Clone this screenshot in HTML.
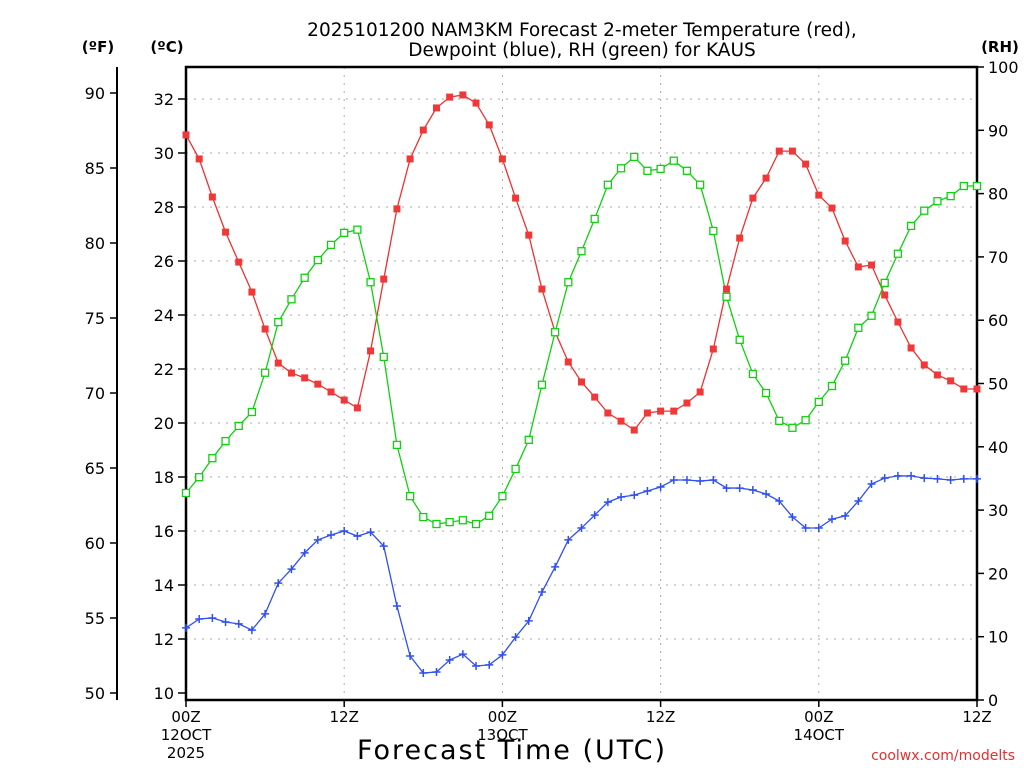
<!DOCTYPE html>
<html><head><meta charset="utf-8"><style>
html,body{margin:0;padding:0;background:#fff;}
svg{display:block;font-family:"DejaVu Sans","Liberation Sans",sans-serif;}
</style></head><body>
<svg id="chart" width="1024" height="768" viewBox="0 0 1024 768">
<g id="grid"></g>
<g id="axes"></g>
<g id="series"></g>
<text x="582" y="36" text-anchor="middle" font-size="18.5">2025101200 NAM3KM Forecast 2-meter Temperature (red),</text>
<text x="582" y="56" text-anchor="middle" font-size="18.5">Dewpoint (blue), RH (green) for KAUS</text>
<text x="98" y="52" text-anchor="middle" font-size="15" font-weight="bold">(ºF)</text>
<text x="167" y="52" text-anchor="middle" font-size="15" font-weight="bold">(ºC)</text>
<text x="1000" y="52" text-anchor="middle" font-size="15" font-weight="bold">(RH)</text>
<text x="512" y="759" text-anchor="middle" font-size="27" letter-spacing="2">Forecast Time (UTC)</text>
<text x="1015" y="760" text-anchor="end" font-size="14" fill="#e03030">coolwx.com/modelts</text>
</svg>
<script>
const hours = [];
for (let i = 0; i <= 60; i++) hours.push(i);
const tempC = [30.67,29.78,28.37,27.07,25.96,24.85,23.48,22.22,21.85,21.67,21.44,21.15,20.85,20.56,22.67,25.33,27.93,29.78,30.85,31.67,32.07,32.15,31.85,31.04,29.78,28.33,26.96,24.96,23.37,22.26,21.52,20.96,20.37,20.07,19.74,20.37,20.44,20.44,20.74,21.15,22.74,24.96,26.85,28.33,29.07,30.07,30.07,29.59,28.44,27.96,26.74,25.78,25.85,24.74,23.74,22.78,22.15,21.78,21.56,21.26,21.26];
const dewC = [12.41,12.74,12.78,12.63,12.56,12.33,12.93,14.07,14.59,15.19,15.67,15.85,16.0,15.81,15.96,15.44,13.22,11.37,10.74,10.78,11.22,11.44,11.0,11.04,11.41,12.07,12.67,13.74,14.67,15.67,16.11,16.59,17.07,17.26,17.33,17.48,17.63,17.89,17.89,17.85,17.89,17.59,17.59,17.52,17.37,17.11,16.52,16.11,16.11,16.44,16.56,17.11,17.74,17.96,18.04,18.04,17.96,17.93,17.89,17.93,17.93];
const rh = [32.7,35.2,38.2,40.9,43.3,45.5,51.7,59.7,63.3,66.7,69.5,71.9,73.8,74.3,66.0,54.2,40.3,32.2,28.9,27.8,28.1,28.4,27.8,29.1,32.2,36.5,41.1,49.8,58.1,66.0,70.9,76.0,81.4,84.0,85.8,83.6,83.9,85.2,83.6,81.4,74.1,63.7,56.9,51.5,48.5,44.1,43.0,44.2,47.1,49.6,53.6,58.8,60.7,65.9,70.5,74.9,77.3,78.8,79.6,81.2,81.2];
const cTicks = [10,12,14,16,18,20,22,24,26,28,30,32];
const fTicks = [50,55,60,65,70,75,80,85,90];
const rhTicks = [0,10,20,30,40,50,60,70,80,90,100];
const xTickHours = [0,12,24,36,48,60];
const xTickLabels = [["00Z","12OCT","2025"],["12Z"],["00Z","13OCT"],["12Z"],["00Z","14OCT"],["12Z"]];

const L=186,R=977,T=67,B=700;
const xs = h => L + (R-L)*h/60;
const yC = c => 693 - (c-10)*27;
const yF = f => yC((f-32)*5/9);
const yRH = r => B - (B-T)*r/100;
const NS="http://www.w3.org/2000/svg";
function mk(tag, parent, attrs){const e=document.createElementNS(NS,tag);for(const k in attrs)e.setAttribute(k,attrs[k]);parent.appendChild(e);return e;}
const grid=document.getElementById('grid'), axes=document.getElementById('axes'), series=document.getElementById('series');

cTicks.forEach(c=>{
  if(c>10){const g=mk('line',grid,{x1:L,x2:R,y1:yC(c),y2:yC(c),stroke:'#aaa','stroke-dasharray':'2,6'});
  
  }
  const t=mk('line',axes,{x1:L-8,x2:L,y1:yC(c),y2:yC(c),stroke:'#000','stroke-width':1.5});
  
  
  const tx=mk('text',axes,{x:L-12,y:yC(c)+6,'text-anchor':'end','font-size':16});
  tx.textContent=c;
  
  
});
xTickHours.forEach((h,i)=>{
  if(h>0&&h<60){const g=mk('line',grid,{x1:xs(h),x2:xs(h),y1:T,y2:B,stroke:'#aaa','stroke-dasharray':'2,6'});
  
  }
  const t=mk('line',axes,{x1:xs(h),x2:xs(h),y1:B,y2:B+7,stroke:'#000','stroke-width':1.5});
  
  
  xTickLabels[i].forEach((s,j)=>{
    const tx=mk('text',axes,{x:xs(h),y:B+22+j*18,'text-anchor':'middle','font-size':15});
    tx.textContent=s;
    
    
  });
});
const fr=mk('rect',axes,{x:L,y:T,width:R-L,height:B-T,fill:'none',stroke:'#000','stroke-width':2.5});


const fa=mk('line',axes,{x1:117,x2:117,y1:T,y2:B,stroke:'#000','stroke-width':2});


fTicks.forEach(f=>{
  const t=mk('line',axes,{x1:110,x2:117,y1:yF(f),y2:yF(f),stroke:'#000','stroke-width':1.5});
  
  
  const tx=mk('text',axes,{x:105,y:yF(f)+6,'text-anchor':'end','font-size':16});
  tx.textContent=f;
  
  
});
rhTicks.forEach(r=>{
  const t=mk('line',axes,{x1:R,x2:R+7,y1:yRH(r),y2:yRH(r),stroke:'#000','stroke-width':1.5});
  
  
  const tx=mk('text',axes,{x:R+11,y:yRH(r)+6,'text-anchor':'start','font-size':16});
  tx.textContent=r;
  
  
});
function line(vals,yf,color,name){
  const p=mk('polyline',series,{points:vals.map((v,i)=>xs(hours[i])+','+yf(v)).join(' '),fill:'none',stroke:color,'stroke-width':1.3});
  
  
}
line(tempC,yC,'#f03030','temperature-line');
line(dewC,yC,'#3050f0','dewpoint-line');
line(rh,yRH,'#10d010','rh-line');
tempC.forEach((v,i)=>{
  const m=mk('rect',series,{x:xs(hours[i])-3.5,y:yC(v)-3.5,width:7,height:7,fill:'#f03838'});
  
  
});
rh.forEach((v,i)=>{
  const m=mk('rect',series,{x:xs(hours[i])-3.5,y:yRH(v)-3.5,width:7,height:7,fill:'#fff',stroke:'#10d010','stroke-width':1.3});
  
  
});
dewC.forEach((v,i)=>{
  const x=xs(hours[i]),y=yC(v);
  const m=mk('path',series,{d:`M${x-4},${y}H${x+4}M${x},${y-4}V${y+4}`,stroke:'#3050f0','stroke-width':1.5});
  
  
});
</script>
</body></html>
